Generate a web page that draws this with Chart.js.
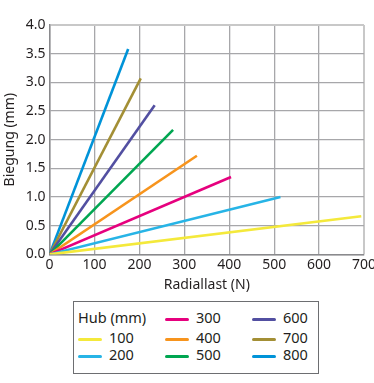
<!DOCTYPE html>
<html lang="de">
  <head>
    <meta charset="utf-8">
    <title>Biegung</title>
    <script src="https://cdn.jsdelivr.net/npm/chart.js"></script>
    <style>
      body { margin: 0; background: #fff; font-family: "Noto Sans", sans-serif; color: #231f20; overflow: hidden; }
      #wrap { position: relative; width: 374px; height: 383px; overflow: hidden; }
      #legend {
        position: absolute; left: 73px; top: 301px; width: 246px; height: 73px;
        border: 1px solid #6d6e71; box-sizing: border-box; font-size: 14.5px;
      }
      .item { position: absolute; height: 16px; line-height: 16px; white-space: nowrap; }
      .item span.sw { display: inline-block; width: 24px; height: 3px; border-radius: 2px; vertical-align: middle; margin-right: 7px; }
    </style>
  </head>
  <body>
    <div id="wrap">
      <div style="height: 293px; width: 378px">
        <canvas id="myChart"></canvas>
      </div>
      <div id="legend"></div>
    </div>

  <script>
    // Hub (mm) -> Endpunkt der Geraden (Radiallast N, Biegung mm)
    var hub = [100, 200, 300, 400, 500, 600, 700, 800];
    var lastEnd = [694, 514, 404, 328, 275, 234, 203, 175];
    var biegungEnd = [0.665, 1.0, 1.35, 1.72, 2.17, 2.6, 3.07, 3.58];
    var farben = ['#f4e93b', '#27b4e6', '#e6007e', '#f7941d', '#00a651', '#524fa1', '#a38f35', '#0093d8'];
    var xTicks = [0, 100, 200, 300, 400, 500, 600, 700];
    var yTicks = [0, 0.5, 1, 1.5, 2, 2.5, 3, 3.5, 4];

    var datasets = hub.map(function (h, i) {
      return {
        label: String(h),
        data: [{ x: 0, y: 0 }, { x: lastEnd[i], y: biegungEnd[i] }],
        borderColor: farben[i],
        borderWidth: 2.6,
        pointRadius: 0,
        fill: false,
        tension: 0
      };
    });

    Chart.defaults.font.family = '"Noto Sans", sans-serif';
    Chart.defaults.font.size = 14;
    Chart.defaults.color = '#231f20';

    const ctx = document.getElementById('myChart').getContext('2d');
    const myChart = new Chart(ctx, {
      type: 'line',
      data: { datasets: datasets },
      options: {
        animation: false,
        responsive: true,
        maintainAspectRatio: false,
        layout: { padding: { top: 25, right: 4, left: 2, bottom: 0 } },
        plugins: { legend: { display: false }, tooltip: { enabled: false } },
        scales: {
          x: {
            type: 'linear', min: 0, max: 700,
            afterBuildTicks: function (ax) { ax.ticks = xTicks.map(function (v) { return { value: v }; }); },
            grid: {
              color: function (c) { return c.tick && c.tick.value === 700 ? '#c8c8c8' : '#a7a7aa'; },
              lineWidth: function (c) { return c.tick && c.tick.value === 700 ? 2 : 1.3; },
              drawTicks: false
            },
            border: { color: '#8a8a8d', width: 1.5 },
            ticks: { padding: 2, maxRotation: 0 },
            title: { display: true, text: 'Radiallast (N)', padding: { top: 1, bottom: 0 } }
          },
          y: {
            type: 'linear', min: 0, max: 4,
            afterBuildTicks: function (ax) { ax.ticks = yTicks.map(function (v) { return { value: v }; }); },
            grid: {
              color: function (c) { return c.tick && c.tick.value === 4 ? '#c8c8c8' : '#a7a7aa'; },
              lineWidth: function (c) { return c.tick && c.tick.value === 4 ? 2 : 1.3; },
              drawTicks: false
            },
            border: { color: '#8a8a8d', width: 1.5 },
            ticks: { padding: 4, callback: function (v) { return v.toFixed(1); } },
            title: { display: true, text: 'Biegung (mm)', padding: { top: 0, bottom: 3 } }
          }
        }
      }
    });

    // Legende im Kasten unter dem Diagramm
    var legend = document.getElementById('legend');
    var spalten = [4, 91, 178];
    var zeilen = [7, 27, 44];
    var titel = document.createElement('div');
    titel.className = 'item';
    titel.style.left = spalten[0] + 'px';
    titel.style.top = zeilen[0] + 'px';
    titel.textContent = 'Hub (mm)';
    legend.appendChild(titel);
    hub.forEach(function (h, i) {
      var pos = i + 1;
      var col = Math.floor(pos / 3), row = pos % 3;
      var el = document.createElement('div');
      el.className = 'item';
      el.style.left = spalten[col] + 'px';
      el.style.top = zeilen[row] + 'px';
      el.innerHTML = '<span class="sw" style="background:' + farben[i] + '"></span>' + h;
      legend.appendChild(el);
    });
  </script>
  </body>
</html>
